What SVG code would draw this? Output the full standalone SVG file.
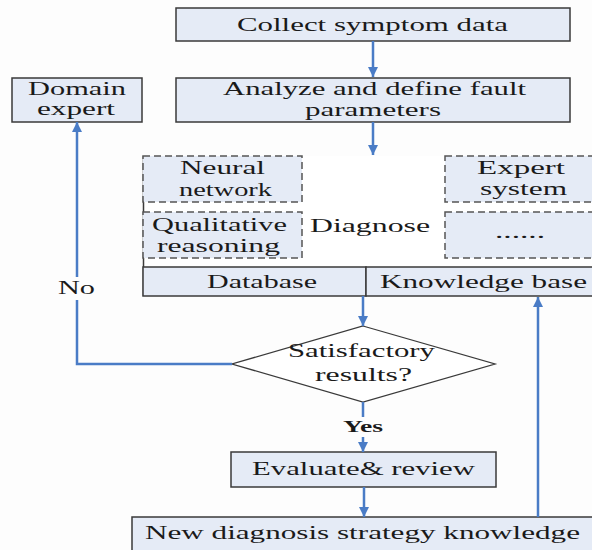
<svg xmlns="http://www.w3.org/2000/svg" width="592" height="550" viewBox="0 0 592 550">
<defs>
<marker id="ah" viewBox="0 0 10 10" refX="10" refY="5" markerWidth="10" markerHeight="10" markerUnits="userSpaceOnUse" orient="auto">
<path d="M0,0 L10,5 L0,10 z" fill="#4a7cc6"/>
</marker>
<style>
.box{fill:#e5ebf6;stroke:#3a3a3a;stroke-width:1.5}
.dash{fill:#e5ebf6;stroke:#555;stroke-width:1.5;stroke-dasharray:7,4}
.t{font-family:"Liberation Serif","Times New Roman",serif;font-size:19px;fill:#1a1a1a}
.b{font-weight:bold;font-size:16px}
.c{fill:none;stroke:#4a7cc6;stroke-width:2.5}
</style>
</defs>
<rect width="592" height="550" fill="#fdfdfd"/>
<g id="collect"><rect class="box" x="176" y="8" width="394" height="33"/>
<text class="t" x="237" y="31" textLength="271" lengthAdjust="spacingAndGlyphs">Collect symptom data</text></g>
<g id="analyze"><rect class="box" x="176" y="78" width="394" height="44"/>
<text class="t" x="223" y="95" textLength="303" lengthAdjust="spacingAndGlyphs">Analyze and define fault</text>
<text class="t" x="305" y="116" textLength="136" lengthAdjust="spacingAndGlyphs">parameters</text></g>
<g id="domain"><rect class="box" x="12" y="78" width="130" height="44"/>
<text class="t" x="28" y="95" textLength="98" lengthAdjust="spacingAndGlyphs">Domain</text>
<text class="t" x="37" y="115" textLength="78" lengthAdjust="spacingAndGlyphs">expert</text></g>
<g id="diagnose">
<rect x="143" y="156" width="460" height="111" fill="#ffffff"/>
<line x1="143.5" y1="156" x2="143.5" y2="296" stroke="#3a3a3a" stroke-width="1.5"/>
<text class="t" x="310" y="232" textLength="120" lengthAdjust="spacingAndGlyphs">Diagnose</text></g>
<g id="neural"><rect class="dash" x="143" y="156" width="159" height="46"/>
<text class="t" x="180" y="174" textLength="85" lengthAdjust="spacingAndGlyphs">Neural</text>
<text class="t" x="179" y="196" textLength="93" lengthAdjust="spacingAndGlyphs">network</text></g>
<g id="qualitative"><rect class="dash" x="143" y="212" width="159" height="46"/>
<text class="t" x="152" y="231" textLength="135" lengthAdjust="spacingAndGlyphs">Qualitative</text>
<text class="t" x="157" y="252" textLength="123" lengthAdjust="spacingAndGlyphs">reasoning</text></g>
<g id="expert"><rect class="dash" x="445" y="156" width="160" height="46"/>
<text class="t" x="477" y="174" textLength="88" lengthAdjust="spacingAndGlyphs">Expert</text>
<text class="t" x="480" y="195" textLength="87" lengthAdjust="spacingAndGlyphs">system</text></g>
<g id="other"><rect class="dash" x="445" y="212" width="160" height="46"/>
<text class="t" x="495" y="238" textLength="50" lengthAdjust="spacingAndGlyphs">......</text></g>
<g id="database"><rect class="box" x="143" y="267" width="223" height="29"/>
<text class="t" x="207" y="288" textLength="110" lengthAdjust="spacingAndGlyphs">Database</text></g>
<g id="kb"><rect class="box" x="366" y="267" width="240" height="29"/>
<text class="t" x="380" y="288" textLength="207" lengthAdjust="spacingAndGlyphs">Knowledge base</text></g>
<g id="decision"><polygon points="363,326 495,364 363,402 232,364" fill="#ffffff" stroke="#3a3a3a" stroke-width="1.3"/>
<text class="t" x="288" y="357" textLength="147" lengthAdjust="spacingAndGlyphs">Satisfactory</text>
<text class="t" x="315" y="381" textLength="97" lengthAdjust="spacingAndGlyphs">results?</text></g>
<g id="evaluate"><rect class="box" x="231" y="452" width="265" height="35"/>
<text class="t" x="252" y="475" textLength="223" lengthAdjust="spacingAndGlyphs">Evaluate&amp; review</text></g>
<g id="newknow"><rect class="box" x="132" y="517" width="475" height="40"/>
<text class="t" x="145" y="539" textLength="435" lengthAdjust="spacingAndGlyphs">New diagnosis strategy knowledge</text></g>
<g id="connectors">
<line class="c" x1="373" y1="41" x2="373" y2="77" marker-end="url(#ah)"/>
<line class="c" x1="373" y1="122" x2="373" y2="155" marker-end="url(#ah)"/>
<line class="c" x1="363" y1="296" x2="363" y2="326" marker-end="url(#ah)"/>
<line class="c" x1="363" y1="402" x2="363" y2="417"/>
<line class="c" x1="363" y1="437" x2="363" y2="452" marker-end="url(#ah)"/>
<line class="c" x1="364" y1="487" x2="364" y2="517" marker-end="url(#ah)"/>
<line class="c" x1="538" y1="517" x2="538" y2="297" marker-end="url(#ah)"/>
<polyline class="c" points="232,364 77,364 77,300"/>
<line class="c" x1="77" y1="277" x2="77" y2="122" marker-end="url(#ah)"/>
<text class="t" x="58" y="294" textLength="37" lengthAdjust="spacingAndGlyphs">No</text>
<text class="t b" x="343" y="432" textLength="40" lengthAdjust="spacingAndGlyphs">Yes</text>
</g>
</svg>
